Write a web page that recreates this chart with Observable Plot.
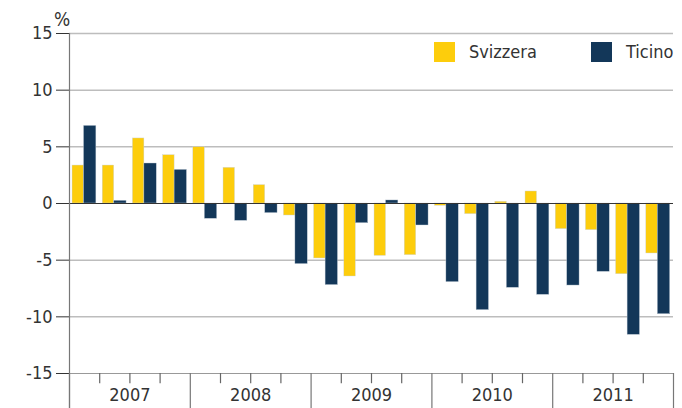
<!DOCTYPE html>
<html>
<head>
<meta charset="utf-8">
<script src="https://cdn.jsdelivr.net/npm/d3@7"></script>
<script src="https://cdn.jsdelivr.net/npm/@observablehq/plot@0.6"></script>
<style>
  body { margin: 0; background: #fff; }
  #wrap { position: relative; width: 682px; height: 408px; font-family: "Liberation Sans Narrow", "DejaVu Sans Condensed", sans-serif; color: #333; }
  .leg { position: absolute; font-size: 18px; line-height: 20px; display: flex; align-items: center; }
  .sw { display: inline-block; width: 21px; height: 20px; margin-right: 14px; }
  #pct { position: absolute; left: 54px; top: 8px; font-size: 19px; }
</style>
</head>
<body>
<div id="wrap"></div>
<script>
const years = ["2007", "2008", "2009", "2010", "2011"];
const quarters = ["T1", "T2", "T3", "T4"];
const seriesNames = ["Svizzera", "Ticino"];
const svizzera = [3.35, 3.35, 5.74, 4.26, 4.97, 3.15, 1.62, -1.06, -4.85, -6.44, -4.62, -4.56, -0.2, -0.94, 0.15, 1.06, -2.26, -2.35, -6.24, -4.41];
const ticino = [6.85, 0.24, 3.53, 2.97, -1.35, -1.53, -0.85, -5.35, -7.2, -1.74, 0.27, -1.94, -6.94, -9.41, -7.44, -8.06, -7.24, -6.03, -11.59, -9.77];
const yTicks = [-15, -10, -5, 0, 5, 10, 15];
const colors = ["#fdcd0c", "#133759"];

const periods = years.flatMap(y => quarters.map(q => y + " " + q));
const rows = [];
periods.forEach((p, i) => {
  rows.push({i, series: seriesNames[0], value: svizzera[i], o1: 0.1, o2: 0.48});
  rows.push({i, series: seriesNames[1], value: ticino[i], o1: 0.48, o2: 0.89});
});
const boundaries = d3.range(0, periods.length + 1);
const yearBounds = boundaries.filter(b => b % 4 === 0);
const quarterBounds = boundaries.filter(b => b % 4 !== 0);
const yBottom = -18.1;

const font = "'Liberation Sans Narrow', 'DejaVu Sans Condensed', sans-serif";

const chart = Plot.plot({
  width: 682,
  height: 408,
  marginLeft: 69,
  marginRight: 9,
  marginTop: 33,
  marginBottom: 35,
  style: {fontFamily: font, fontSize: "18px", color: "#333", background: "#fff"},
  x: {type: "linear", domain: [0, periods.length], axis: null},
  y: {domain: [-15, 15], ticks: yTicks, tickSize: 13, tickPadding: 4, label: null, tickFormat: d => String(d)},
  color: {domain: seriesNames, range: colors},
  marks: [
    Plot.ruleY(yTicks.filter(t => t !== 0 && t !== -15), {stroke: "#bdbdbd", strokeWidth: 1.5}),
    Plot.ruleY([-15], {stroke: "#999", strokeWidth: 1.2}),
    Plot.rect(rows, {
      x1: d => d.i + d.o1,
      x2: d => d.i + d.o2,
      y1: 0,
      y2: "value",
      fill: "series",
      stroke: "#c8d2dc",
      strokeWidth: 0.4
    }),
    Plot.ruleY([0], {stroke: "#333", strokeWidth: 1.2}),
    Plot.ruleX([0], {y1: yBottom, y2: 15, stroke: "#777", strokeWidth: 1.2}),
    Plot.ruleX(yearBounds, {y1: -15, y2: yBottom, stroke: "#777", strokeWidth: 1.2}),
    Plot.ruleX(quarterBounds, {y1: -15, y2: -15.9, stroke: "#666", strokeWidth: 1.2}),
    Plot.text(years, {
      x: (d, k) => k * 4 + 2,
      y: -15,
      text: d => d,
      dy: 22,
      fill: "#333",
      fontSize: 18
    })
  ]
});

const wrap = document.getElementById("wrap");
wrap.appendChild(chart);

const pct = document.createElement("div");
pct.id = "pct";
pct.textContent = "%";
wrap.appendChild(pct);

const legendPos = [{left: 434, top: 42}, {left: 591, top: 42}];
seriesNames.forEach((name, k) => {
  const item = document.createElement("div");
  item.className = "leg";
  item.style.left = legendPos[k].left + "px";
  item.style.top = legendPos[k].top + "px";
  const sw = document.createElement("span");
  sw.className = "sw";
  sw.style.background = colors[k];
  item.appendChild(sw);
  const t = document.createElement("span");
  t.textContent = name;
  item.appendChild(t);
  wrap.appendChild(item);
});
</script>
</body>
</html>
